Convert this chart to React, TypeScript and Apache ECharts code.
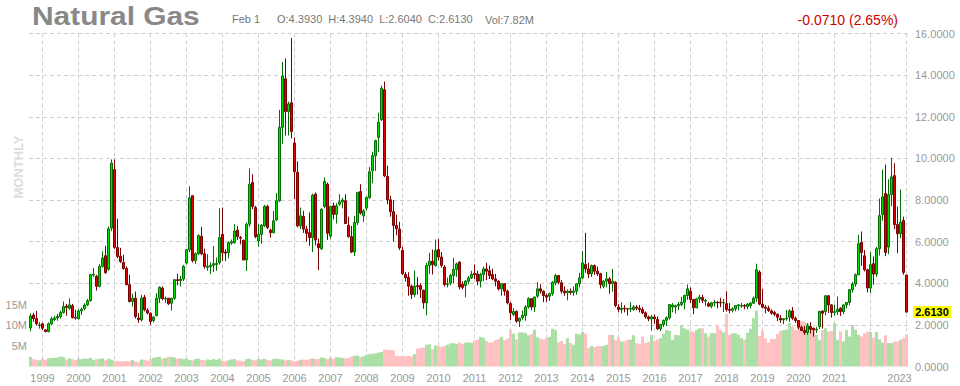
import React, { useEffect, useRef } from 'react';
import * as echarts from 'echarts';

// Each row: [open, close, low, high]
const ohlc1998 = [[1.85, 2.43, 1.70, 2.56], [2.47, 2.30, 2.15, 2.58], [2.30, 2.05, 1.98, 2.67], [1.97, 2.00, 1.82, 2.13]];
const ohlc1999 = [[2.05, 1.84, 1.76, 2.11], [1.76, 1.68, 1.64, 1.79], [1.68, 2.05, 1.64, 2.12], [2.05, 2.29, 2.00, 2.40], [2.26, 2.33, 2.18, 2.44], [2.33, 2.40, 2.20, 2.53], [2.40, 2.59, 2.30, 2.69], [2.59, 2.88, 2.55, 3.12], [2.90, 2.84, 2.44, 3.01], [2.80, 2.96, 2.72, 3.28], [2.92, 2.35, 2.30, 3.01], [2.36, 2.33, 2.25, 2.72]];
const ohlc2000 = [[2.30, 2.67, 2.25, 2.75], [2.67, 2.75, 2.48, 2.83], [2.78, 2.95, 2.70, 3.04], [2.96, 3.16, 2.90, 3.25], [3.16, 4.41, 3.12, 4.45], [4.39, 4.43, 4.30, 4.73], [4.33, 3.85, 3.65, 4.41], [3.85, 4.81, 3.80, 4.92], [4.81, 5.21, 4.75, 5.53], [5.32, 4.51, 4.45, 5.80], [4.67, 6.62, 4.60, 6.73], [6.65, 9.78, 6.50, 9.95]];
const ohlc2001 = [[9.46, 5.72, 5.65, 9.95], [5.72, 5.29, 5.20, 7.10], [5.30, 5.05, 4.97, 5.70], [5.00, 4.71, 4.65, 5.37], [4.71, 3.93, 3.90, 4.81], [3.93, 3.12, 3.08, 4.41], [3.12, 3.28, 2.88, 3.50], [3.28, 2.40, 2.30, 3.60], [2.33, 2.26, 2.10, 2.56], [2.24, 3.28, 2.16, 3.44], [3.33, 2.72, 2.65, 3.44], [2.70, 2.57, 2.50, 2.80]];
const ohlc2002 = [[2.56, 2.16, 2.00, 2.60], [2.21, 2.37, 2.11, 2.43], [2.45, 3.28, 2.40, 3.52], [3.28, 3.81, 3.05, 3.85], [3.77, 3.26, 3.18, 3.85], [3.24, 3.27, 3.06, 3.36], [3.28, 3.01, 2.96, 3.30], [3.04, 3.28, 2.69, 3.30], [3.28, 4.17, 3.20, 4.20], [4.17, 4.13, 3.90, 4.45], [4.13, 4.20, 3.85, 4.35], [4.20, 4.81, 4.10, 4.88]];
const ohlc2003 = [[4.97, 5.61, 4.90, 5.65], [5.61, 8.10, 5.50, 8.66], [8.21, 5.09, 5.00, 8.21], [5.09, 5.42, 4.93, 5.48], [5.42, 6.29, 5.35, 6.35], [6.26, 5.42, 5.35, 6.71], [5.42, 4.81, 4.70, 5.66], [4.76, 4.82, 4.60, 5.40], [4.80, 4.86, 4.43, 5.00], [4.86, 4.94, 4.54, 5.79], [4.90, 4.95, 4.60, 5.23], [4.99, 6.19, 4.90, 7.60]];
const ohlc2004 = [[6.35, 5.47, 5.07, 7.64], [5.50, 5.45, 5.07, 5.63], [5.47, 5.95, 5.20, 6.00], [5.93, 6.00, 5.85, 6.10], [5.95, 6.51, 5.90, 6.84], [6.55, 6.24, 6.08, 6.76], [6.20, 6.16, 5.87, 6.27], [6.06, 5.12, 5.10, 6.10], [5.12, 6.84, 4.59, 6.92], [6.84, 8.76, 6.70, 9.52], [8.84, 7.69, 7.56, 9.24], [7.64, 6.24, 6.16, 7.72]];
const ohlc2005 = [[6.03, 6.35, 5.76, 6.84], [6.35, 6.79, 5.90, 6.84], [6.76, 7.69, 6.70, 7.77], [7.69, 6.67, 6.60, 7.77], [6.55, 6.43, 6.19, 6.63], [6.43, 7.00, 6.40, 7.48], [7.04, 7.96, 7.00, 8.33], [7.96, 11.49, 7.90, 12.33], [11.49, 13.95, 10.70, 14.63], [13.82, 12.25, 11.10, 14.80], [12.25, 12.62, 11.10, 12.73], [12.67, 11.29, 10.96, 15.78]];
const ohlc2006 = [[10.74, 9.36, 8.04, 11.00], [9.33, 6.76, 6.68, 9.86], [6.76, 7.24, 6.60, 7.64], [7.21, 6.60, 6.42, 7.48], [6.60, 6.40, 6.00, 6.76], [6.43, 6.19, 5.80, 7.40], [6.19, 8.23, 5.50, 8.30], [8.28, 6.08, 5.82, 8.36], [5.90, 5.71, 4.63, 6.14], [5.66, 7.56, 5.60, 7.60], [7.69, 8.89, 7.60, 9.08], [8.76, 6.40, 6.08, 8.84]];
const ohlc2007 = [[6.27, 7.69, 6.12, 7.72], [7.72, 7.31, 7.07, 7.88], [7.31, 7.72, 6.87, 7.85], [7.80, 7.91, 7.72, 8.28], [7.91, 8.00, 7.60, 8.10], [7.96, 6.87, 6.85, 8.28], [6.79, 6.24, 6.20, 7.20], [6.24, 5.50, 5.45, 6.75], [5.50, 6.92, 5.31, 7.24], [6.92, 8.36, 6.80, 8.40], [8.41, 7.37, 7.30, 8.76], [7.24, 7.48, 6.95, 7.56]];
const ohlc2008 = [[7.61, 8.12, 7.50, 8.18], [8.12, 9.36, 8.05, 9.58], [9.41, 10.13, 8.80, 10.32], [10.13, 10.85, 9.40, 10.90], [11.01, 11.73, 10.30, 12.20], [11.86, 13.37, 11.80, 13.50], [13.30, 9.16, 9.10, 13.69], [9.13, 8.01, 7.80, 9.65], [8.01, 7.44, 7.20, 8.20], [7.44, 6.78, 6.00, 8.00], [6.78, 6.62, 6.30, 7.30], [6.60, 5.70, 5.60, 6.95]];
const ohlc2009 = [[5.57, 4.46, 4.40, 5.75], [4.42, 4.26, 4.08, 4.55], [4.29, 3.86, 3.40, 4.53], [3.86, 3.46, 3.25, 3.94], [3.46, 3.86, 3.33, 4.61], [3.88, 3.84, 3.45, 4.30], [3.89, 3.70, 3.29, 4.00], [3.66, 3.06, 2.78, 3.70], [3.06, 4.85, 2.46, 4.98], [4.85, 5.06, 4.45, 5.46], [5.06, 4.90, 4.42, 5.62], [4.85, 5.58, 4.80, 6.10]];
const ohlc2010 = [[5.62, 5.26, 5.10, 6.13], [5.26, 4.85, 4.75, 5.50], [4.78, 3.94, 3.84, 4.87], [3.94, 3.98, 3.80, 4.27], [4.02, 4.37, 3.90, 4.45], [4.37, 4.66, 3.98, 5.22], [4.66, 4.93, 4.30, 5.00], [5.02, 3.82, 3.70, 5.05], [3.95, 3.80, 3.70, 4.10], [3.89, 4.10, 3.33, 4.15], [4.10, 4.26, 3.95, 4.35], [4.26, 4.42, 4.20, 4.60]];
const ohlc2011 = [[4.48, 4.42, 4.20, 4.90], [4.45, 4.10, 3.90, 4.60], [4.10, 4.42, 3.80, 4.50], [4.42, 4.69, 4.10, 4.80], [4.69, 4.58, 4.15, 4.98], [4.60, 4.37, 4.20, 4.85], [4.42, 4.21, 4.15, 4.70], [4.21, 4.10, 3.85, 4.45], [4.10, 3.73, 3.65, 4.15], [3.73, 3.98, 3.40, 4.00], [3.98, 3.62, 3.40, 4.00], [3.62, 3.06, 2.98, 3.70]];
const ohlc2012 = [[3.02, 2.58, 2.23, 3.10], [2.50, 2.64, 2.42, 2.80], [2.64, 2.18, 2.10, 2.70], [2.18, 2.32, 1.90, 2.35], [2.34, 2.45, 2.25, 2.70], [2.45, 2.86, 2.20, 2.95], [2.86, 3.26, 2.78, 3.33], [3.26, 2.86, 2.70, 3.28], [2.86, 3.34, 2.62, 3.35], [3.38, 3.73, 3.30, 4.06], [3.73, 3.62, 3.50, 3.95], [3.62, 3.41, 3.09, 3.65]];
const ohlc2013 = [[3.41, 3.33, 3.10, 3.50], [3.38, 3.50, 3.15, 3.55], [3.50, 4.05, 3.40, 4.10], [4.02, 4.37, 3.90, 4.45], [4.37, 4.05, 3.95, 4.40], [4.02, 3.62, 3.50, 4.15], [3.62, 3.54, 3.40, 3.85], [3.54, 3.62, 3.18, 3.70], [3.62, 3.56, 3.45, 3.75], [3.56, 3.62, 3.40, 3.85], [3.62, 3.97, 3.45, 4.00], [3.97, 4.26, 3.80, 4.50]];
const ohlc2014 = [[4.26, 4.98, 4.20, 5.54], [4.90, 4.69, 4.50, 6.42], [4.69, 4.45, 4.25, 4.99], [4.45, 4.85, 4.30, 4.90], [4.85, 4.58, 4.40, 4.90], [4.58, 4.46, 4.35, 4.80], [4.46, 3.94, 3.75, 4.50], [3.86, 4.10, 3.76, 4.15], [4.10, 4.21, 3.80, 4.55], [4.21, 3.98, 3.50, 4.30], [3.98, 4.10, 3.60, 4.69], [4.05, 2.93, 2.85, 4.10]];
const ohlc2015 = [[2.86, 2.74, 2.60, 3.00], [2.74, 2.80, 2.55, 3.09], [2.80, 2.77, 2.60, 2.95], [2.77, 2.76, 2.45, 2.82], [2.76, 2.79, 2.62, 3.09], [2.74, 2.86, 2.68, 2.95], [2.86, 2.80, 2.70, 2.95], [2.80, 2.74, 2.60, 2.95], [2.74, 2.58, 2.52, 2.85], [2.58, 2.38, 2.30, 2.65], [2.38, 2.29, 2.18, 2.45], [2.29, 2.38, 1.72, 2.48]];
const ohlc2016 = [[2.38, 2.30, 2.05, 2.50], [2.26, 1.81, 1.76, 2.40], [1.81, 2.02, 1.70, 2.05], [2.02, 2.22, 1.90, 2.25], [2.22, 2.34, 1.95, 2.40], [2.34, 2.98, 2.25, 3.00], [2.86, 2.96, 2.60, 3.05], [2.86, 2.92, 2.55, 2.97], [2.92, 2.98, 2.70, 3.10], [2.98, 3.09, 2.90, 3.35], [3.09, 3.41, 2.75, 3.45], [3.41, 3.73, 3.20, 3.94]];
const ohlc2017 = [[3.62, 3.22, 3.05, 3.80], [3.22, 2.82, 2.52, 3.25], [2.82, 3.25, 2.80, 3.30], [3.25, 3.33, 3.05, 3.45], [3.31, 3.18, 3.05, 3.45], [3.14, 3.17, 2.90, 3.25], [3.02, 2.90, 2.85, 3.10], [2.90, 3.06, 2.80, 3.10], [3.06, 3.09, 2.88, 3.20], [3.09, 3.06, 2.80, 3.15], [3.09, 3.06, 2.85, 3.30], [3.06, 3.07, 2.62, 3.25]];
const ohlc2018 = [[3.02, 2.74, 2.64, 3.62], [2.74, 2.70, 2.55, 3.05], [2.70, 2.77, 2.60, 2.85], [2.77, 2.93, 2.65, 2.95], [2.93, 2.96, 2.70, 3.00], [2.90, 2.93, 2.82, 3.05], [2.93, 2.90, 2.75, 3.00], [2.88, 3.00, 2.75, 3.05], [2.93, 3.04, 2.80, 3.10], [3.04, 3.28, 3.00, 3.36], [3.28, 4.65, 3.10, 4.94], [4.54, 3.00, 2.94, 4.62]];
const ohlc2019 = [[3.00, 2.85, 2.80, 3.73], [2.85, 2.80, 2.55, 2.95], [2.80, 2.69, 2.62, 2.92], [2.67, 2.56, 2.49, 2.74], [2.59, 2.51, 2.42, 2.68], [2.51, 2.37, 2.18, 2.55], [2.32, 2.24, 2.10, 2.47], [2.24, 2.29, 2.03, 2.33], [2.29, 2.32, 2.20, 2.72], [2.37, 2.67, 2.15, 2.75], [2.67, 2.32, 2.24, 2.86], [2.32, 2.21, 2.09, 2.40]];
const ohlc2020 = [[2.21, 1.89, 1.80, 2.23], [1.89, 1.73, 1.70, 1.97], [1.73, 1.63, 1.52, 1.95], [1.63, 1.95, 1.52, 2.08], [1.92, 1.79, 1.58, 2.13], [1.84, 1.76, 1.43, 1.87], [1.76, 1.79, 1.61, 1.90], [1.92, 2.64, 1.80, 2.68], [2.67, 2.56, 1.82, 2.68], [2.64, 3.40, 2.45, 3.42], [3.40, 2.96, 2.57, 3.42], [2.96, 2.59, 2.35, 3.00]];
const ohlc2021 = [[2.60, 2.63, 2.44, 2.97], [2.63, 2.75, 2.48, 3.36], [2.80, 2.64, 2.43, 2.85], [2.64, 2.96, 2.51, 2.98], [2.96, 3.08, 2.80, 3.10], [3.08, 3.69, 2.94, 3.72], [3.69, 3.96, 3.55, 4.07], [3.96, 4.41, 3.83, 4.47], [4.41, 5.90, 4.38, 6.33], [5.96, 5.48, 4.84, 6.49], [5.32, 4.65, 4.57, 5.60], [4.65, 3.77, 3.56, 4.70]];
const ohlc2022 = [[3.77, 4.89, 3.53, 5.50], [4.94, 4.44, 3.93, 5.29], [4.44, 5.66, 4.30, 5.75], [5.66, 7.25, 5.33, 8.07], [7.30, 8.15, 7.00, 9.46], [8.31, 5.48, 5.30, 9.70], [5.74, 8.26, 5.40, 9.00], [8.26, 9.11, 7.70, 10.03], [9.17, 6.82, 6.60, 9.76], [6.82, 6.38, 5.45, 7.68], [6.38, 6.93, 6.16, 8.50], [7.01, 4.52, 4.41, 7.20]];
const ohlc2023 = [[4.393, 2.613, 2.604, 4.394]];

// Monthly volume, millions
const vol1998 = [2.3, 1.8, 1.6, 1.5];
const vol1999 = [1.9, 1.6, 2.0, 2.1, 2.1, 2.2, 2.4, 2.3, 1.7, 2.0, 1.8, 1.6];
const vol2000 = [1.9, 1.8, 2.0, 1.9, 2.1, 1.6, 1.8, 1.9, 2.0, 1.5, 1.9, 1.7];
const vol2001 = [1.4, 1.3, 1.2, 1.3, 1.3, 1.3, 1.6, 1.2, 1.0, 1.7, 1.6, 1.4];
const vol2002 = [1.8, 2.1, 2.3, 2.4, 1.9, 2.1, 2.4, 2.3, 2.2, 1.9, 2.0, 1.8];
const vol2003 = [1.9, 1.6, 1.5, 1.8, 1.9, 1.6, 1.5, 1.7, 1.6, 1.8, 1.6, 1.9];
const vol2004 = [1.4, 1.3, 1.5, 1.7, 1.8, 1.5, 1.4, 1.3, 1.8, 1.9, 1.6, 1.5];
const vol2005 = [1.8, 1.7, 1.9, 1.6, 1.5, 1.8, 1.9, 1.8, 1.7, 1.5, 1.6, 1.5];
const vol2006 = [1.3, 1.4, 1.6, 1.7, 1.6, 1.8, 2.0, 1.8, 1.9, 2.2, 2.1, 1.8];
const vol2007 = [2.1, 1.9, 2.3, 2.2, 2.1, 2.0, 2.1, 2.4, 2.6, 2.7, 2.3, 2.5];
const vol2008 = [2.9, 3.0, 3.1, 3.2, 3.4, 3.5, 4.1, 4.1, 4.0, 3.9, 2.6, 2.5];
const vol2009 = [2.6, 2.5, 2.6, 2.4, 3.0, 4.3, 4.5, 4.6, 5.3, 5.4, 4.2, 5.1];
const vol2010 = [5.0, 4.8, 5.0, 5.3, 5.6, 5.7, 5.5, 5.8, 5.5, 5.8, 5.9, 5.7];
const vol2011 = [6.3, 6.5, 7.2, 7.0, 6.2, 5.8, 5.9, 6.4, 6.7, 7.2, 6.4, 6.8];
const vol2012 = [8.9, 8.0, 6.6, 8.3, 8.3, 8.1, 7.6, 7.9, 8.9, 7.1, 6.8, 6.6];
const vol2013 = [6.9, 7.2, 9.2, 8.9, 5.9, 6.2, 5.5, 6.9, 5.7, 5.3, 8.0, 7.8];
const vol2014 = [8.4, 8.0, 4.5, 5.0, 4.7, 5.0, 5.0, 5.0, 5.3, 7.7, 7.7, 6.5];
const vol2015 = [7.1, 6.1, 6.1, 6.5, 6.5, 7.6, 5.7, 5.5, 7.3, 5.7, 6.0, 7.7];
const vol2016 = [6.3, 6.6, 6.9, 8.0, 8.9, 8.7, 6.5, 7.7, 7.6, 9.9, 9.3, 9.0];
const vol2017 = [8.5, 8.5, 8.9, 9.3, 9.3, 8.1, 7.3, 8.1, 8.1, 10.1, 8.9, 8.3];
const vol2018 = [12.8, 7.7, 8.1, 8.1, 7.7, 6.9, 6.6, 8.2, 9.2, 11.8, 13.6, 7.4];
const vol2019 = [8.8, 6.8, 5.8, 6.7, 6.7, 7.9, 8.7, 8.8, 9.0, 10.6, 9.7, 8.8];
const vol2020 = [11.3, 11.0, 10.9, 10.5, 8.9, 8.8, 7.7, 6.5, 8.9, 9.3, 8.5, 8.6];
const vol2021 = [10.5, 6.5, 8.5, 6.1, 8.9, 7.3, 10.1, 9.0, 7.7, 7.3, 8.1, 8.5];
const vol2022 = [8.4, 7.0, 8.4, 6.6, 5.8, 7.6, 5.7, 5.7, 6.1, 6.1, 6.5, 6.9];
const vol2023 = [7.82];

const years = [1998, 1999, 2000, 2001, 2002, 2003, 2004, 2005, 2006, 2007, 2008, 2009, 2010, 2011, 2012, 2013, 2014, 2015, 2016, 2017, 2018, 2019, 2020, 2021, 2022, 2023];
const firstMonth = 9; // data starts September 1998
const ohlcByYear = [ohlc1998, ohlc1999, ohlc2000, ohlc2001, ohlc2002, ohlc2003, ohlc2004, ohlc2005, ohlc2006, ohlc2007, ohlc2008, ohlc2009, ohlc2010, ohlc2011, ohlc2012, ohlc2013, ohlc2014, ohlc2015, ohlc2016, ohlc2017, ohlc2018, ohlc2019, ohlc2020, ohlc2021, ohlc2022, ohlc2023];
const volByYear = [vol1998, vol1999, vol2000, vol2001, vol2002, vol2003, vol2004, vol2005, vol2006, vol2007, vol2008, vol2009, vol2010, vol2011, vol2012, vol2013, vol2014, vol2015, vol2016, vol2017, vol2018, vol2019, vol2020, vol2021, vol2022, vol2023];
const hiddenYearLabels = ['2022'];

const FONT = '"Liberation Sans", Arial, sans-serif';
const UP_FILL = '#00e000';
const UP_LINE = '#006e00';
const DOWN_FILL = '#e00000';
const DOWN_LINE = '#7a0000';
const UP_VOL = '#aadfa6';
const DOWN_VOL = '#ffc1c1';
const GRID_LINE = { color: '#cfcfcf', type: [4, 3] as number[], width: 1 };

const categories: string[] = [];
const candles: number[][] = [];
const volumes: any[] = [];
years.forEach((y, yi) => {
  const rows = ohlcByYear[yi];
  const vols = volByYear[yi];
  const start = yi === 0 ? firstMonth : 1;
  rows.forEach((r, k) => {
    const m = start + k;
    categories.push(`${y}-${m < 10 ? '0' + m : m}`);
    candles.push(r);
    volumes.push({ value: vols[k], itemStyle: { color: r[1] >= r[0] ? UP_VOL : DOWN_VOL } });
  });
});

const isYearStart = (v: string) => v.endsWith('-01');
const showYearLabel = (v: string) => isYearStart(v) && hiddenYearLabels.indexOf(v.slice(0, 4)) < 0;
const lastCategory = categories[categories.length - 1];

const baseGraphics: any[] = [
  { id: 'title', type: 'text', x: 32, y: 16, scaleX: 1.15, style: { text: 'Natural Gas', font: `bold 26px ${FONT}`, fill: '#888888', verticalAlign: 'middle' } },
  { id: 'date', type: 'text', x: 232, y: 19, style: { text: 'Feb 1', font: `11px ${FONT}`, fill: '#777777', verticalAlign: 'middle' } },
  { id: 'ohlc', type: 'text', x: 277, y: 19, style: { text: 'O:4.3930  H:4.3940  L:2.6040  C:2.6130', font: `11px ${FONT}`, fill: '#777777', verticalAlign: 'middle' } },
  { id: 'vol', type: 'text', x: 485, y: 20, style: { text: 'Vol:7.82M', font: `11px ${FONT}`, fill: '#777777', verticalAlign: 'middle' } },
  { id: 'chg', type: 'text', x: 898, y: 20, style: { text: '-0.0710 (2.65%)', font: `14px ${FONT}`, fill: '#cc0000', align: 'right', verticalAlign: 'middle' } },
  { id: 'period', type: 'text', x: 18.5, y: 167, rotation: Math.PI / 2, style: { text: 'MONTHLY', font: `bold 13px ${FONT}`, fill: '#dddddd', align: 'center', verticalAlign: 'middle' } },
];

const option: any = {
  animation: false,
  backgroundColor: '#ffffff',
  textStyle: { fontFamily: FONT },
  grid: { left: 29, top: 33.5, width: 879, height: 333, containLabel: false },
  xAxis: {
    type: 'category',
    data: categories,
    boundaryGap: true,
    axisLine: { show: false },
    axisTick: { show: false },
    axisLabel: {
      interval: (_i: number, v: string) => showYearLabel(v),
      formatter: (v: string) => (v === lastCategory ? `{e|${v.slice(0, 4)}}` : v.slice(0, 4)),
      color: '#999999',
      fontSize: 11,
      margin: 6,
      rich: { e: { padding: [0, 14, 0, 0], color: '#999999', fontSize: 11, fontFamily: FONT } },
    },
    splitLine: {
      show: true,
      interval: (_i: number, v: string) => isYearStart(v),
      alignWithLabel: true,
      lineStyle: GRID_LINE,
    },
  },
  yAxis: [
    {
      type: 'value',
      position: 'right',
      min: 0,
      max: 16,
      interval: 2,
      axisLine: { show: false },
      axisTick: { show: false },
      axisLabel: { formatter: (v: number) => v.toFixed(4), color: '#999999', fontSize: 11, margin: 7 },
      splitLine: { show: true, showMinLine: false, lineStyle: GRID_LINE },
    },
    {
      type: 'value',
      position: 'left',
      min: 0,
      max: 81,
      interval: 5,
      axisLine: { show: false },
      axisTick: { show: false },
      axisLabel: { formatter: (v: number) => (v >= 5 && v <= 15 ? `${v}M` : ''), color: '#999999', fontSize: 11, margin: 2 },
      splitLine: { show: false },
    },
  ],
  series: [
    {
      type: 'bar',
      name: 'Volume',
      xAxisIndex: 0,
      yAxisIndex: 1,
      data: volumes,
      barWidth: 3,
      barGap: '0%',
      silent: true,
      z: 1,
    },
    {
      type: 'candlestick',
      name: 'Natural Gas',
      xAxisIndex: 0,
      yAxisIndex: 0,
      data: candles,
      barWidth: 2.4,
      silent: true,
      z: 2,
      itemStyle: { color: UP_FILL, color0: DOWN_FILL, borderColor: UP_LINE, borderColor0: DOWN_LINE, borderWidth: 1 },
    },
  ],
  graphic: baseGraphics,
};

export default function App() {
  const ref = useRef<HTMLDivElement>(null);
  useEffect(() => {
    if (!ref.current) return;
    const chart = echarts.init(ref.current, null, { renderer: 'svg' });
    chart.setOption(option);
    const lastClose = candles[candles.length - 1][1];
    const py = chart.convertToPixel({ yAxisIndex: 0 }, lastClose) as number;
    chart.setOption({
      graphic: [
        ...baseGraphics,
        { id: 'lastBox', type: 'rect', shape: { x: 913, y: Math.round(py) - 6, width: 38, height: 12 }, style: { fill: '#ffff00' } },
        { id: 'lastText', type: 'text', x: 932, y: Math.round(py), style: { text: lastClose.toFixed(4), font: `bold 11px ${FONT}`, fill: '#000000', align: 'center', verticalAlign: 'middle' } },
      ],
    });
    return () => chart.dispose();
  }, []);
  return <div ref={ref} style={{ position: 'fixed', left: 0, top: 0, width: 960, height: 386, background: '#ffffff' }} />;
}
